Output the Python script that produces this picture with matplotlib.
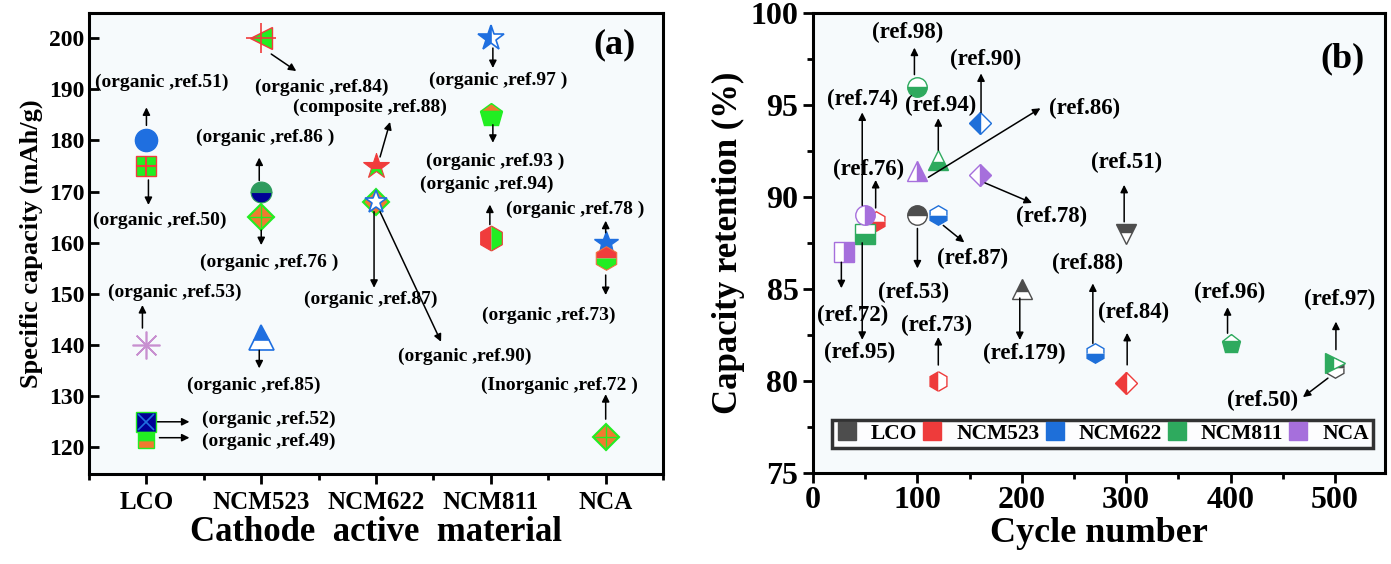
import numpy as np
import matplotlib
matplotlib.use("Agg")
import matplotlib.pyplot as plt
from matplotlib.transforms import offset_copy
from matplotlib.lines import Line2D
from matplotlib.ticker import MultipleLocator

plt.rcParams['font.family'] = ['Liberation Serif', 'DejaVu Serif']
plt.rcParams['font.weight'] = 'bold'
plt.rcParams['axes.labelweight'] = 'bold'

# ---------------- data: panel (a) ----------------
materials = ['LCO', 'NCM523', 'NCM622', 'NCM811', 'NCA']
a_cat = [1, 1, 1, 1, 1, 2, 2, 2, 2, 3, 3, 4, 4, 4, 5, 5, 5]
a_cap = [180, 175, 140, 125, 121.5, 200, 170, 165, 141.5, 175, 168, 200, 185, 161, 160, 157, 122]
a_labels = ['(organic ,ref.51)', '(organic ,ref.50)', '(organic ,ref.53)', '(organic ,ref.52)',
            '(organic ,ref.49)', '(organic ,ref.84)', '(organic ,ref.86 )', '(organic ,ref.76 )',
            '(organic ,ref.85)', '(composite ,ref.88)', '(organic ,ref.87)', '(organic ,ref.97 )',
            '(organic ,ref.93 )', '(organic ,ref.94)', '(organic ,ref.78 )', '(organic ,ref.73)',
            '(Inorganic ,ref.72 )']

# ---------------- data: panel (b) ----------------
b_groups = ['LCO', 'NCM523', 'NCM622', 'NCM811', 'NCA']
b_colors = ['#4d4d4d', '#ee3b3b', '#1e6fd9', '#2eaa5e', '#a66fdc']
b_group = ['LCO', 'LCO', 'LCO', 'LCO',
           'NCM523', 'NCM523', 'NCM523',
           'NCM622', 'NCM622', 'NCM622',
           'NCM811', 'NCM811', 'NCM811', 'NCM811', 'NCM811',
           'NCA', 'NCA', 'NCA', 'NCA']
b_cycles = [100, 200, 300, 500, 60, 120, 300, 120, 160, 270, 100, 120, 50, 400, 500, 50, 100, 160, 30]
b_retention = [89, 85, 88, 80.7, 88.7, 80, 79.9, 89, 94, 81.5, 96, 92, 88, 82, 81, 89, 91.4, 91.2, 87]
b_labels = ['(ref.53)', '(ref.179)', '(ref.51)', '(ref.50)', '(ref.76)', '(ref.73)', '(ref.84)',
            '(ref.87)', '(ref.90)', '(ref.88)', '(ref.98)', '(ref.94)', '(ref.95)', '(ref.96)',
            '(ref.97)', '(ref.74)', '(ref.86)', '(ref.78)', '(ref.72)']
b_markers = ['o', '^', 'v', 'h', 'h', 'h', 'D', 'h', 'D', 'h', 'o', '^', 's', 'p', '>', 'o', '^', 'D', 's']
b_fill = ['top', 'top', 'top', 'top', 'bottom', 'left', 'left', 'bottom', 'left', 'bottom',
          'bottom', 'bottom', 'bottom', 'bottom', 'left', 'right', 'right', 'right', 'right']

# annotation layout, pixel offsets from the point: text (dx, dy), arrow tail, arrow tip
a_layout = [
    ((15, 58), (0, 15), (0, 33)),
    ((13, -54), (2, -14), (2, -39)),
    ((28, 53), (-4, 17), (-4, 40)),
    ((122, 2), (11, 0), (43, 0)),
    ((122, -2), (13, 2), (43, 2)),
    ((61, -49), (10, -16), (35, -33)),
    ((4, 54), (-2, 11), (-2, 34)),
    ((8, -45), (0, -13), (0, -28)),
    ((-7, -48), (-2, -13), (-2, -31)),
    ((-6, 59), (4, 9), (14, 44)),
    ((-5, -98), (-2, -10), (-2, -86)),
    ((7, -42), (2, -10), (2, -30)),
    ((4, -47), (2, -10), (2, -28)),
    ((-4, 53), (-1, 13), (-1, 33)),
    ((-30, 33), (0, 10), (0, 22)),
    ((-57, -57), (0, -17), (0, -37)),
    ((-46, 52), (0, 18), (0, 43)),
]
b_layout = [
    ((-4, -77), (0, -13), (0, -53)),
    ((3, -64), (-2, -9), (-2, -51)),
    ((0, 71), (-2, 12), (-2, 49)),
    ((-72, -32), (-7, -10), (-32, -29)),
    ((-7, 51), (0, 13), (0, 41)),
    ((-2, 56), (0, 16), (0, 44)),
    ((7, 70), (1, 18), (1, 50)),
    ((34, -43), (5, -10), (26, -27)),
    ((6, 64), (1, 11), (1, 50)),
    ((-7, 90), (-2, 10), (-2, 70)),
    ((-10, 54), (-3, 12), (-3, 39)),
    ((2, 55), (0, 10), (0, 42)),
    ((-6, -119), (-3, -9), (-3, -106)),
    ((-1, 52), (-3, 11), (-3, 37)),
    ((5, 63), (1, 13), (1, 41)),
    ((-3, 116), (-3, 10), (-3, 103)),
    ((167, 63), (11, -6), (123, 63)),
    ((72, -42), (5, -8), (52, -28)),
    ((8, -63), (-3, -10), (-3, -36)),
]

fig = plt.figure(figsize=(13.91, 5.64), dpi=100)
axa = fig.add_axes([0.064, 0.1596, 0.4127, 0.8174])
axb = fig.add_axes([0.5845, 0.1613, 0.4112, 0.8156])


def arrow(ax, x, y, tail, tip):
    t_tail = offset_copy(ax.transData, fig=fig, x=tail[0], y=tail[1], units='dots')
    t_tip = offset_copy(ax.transData, fig=fig, x=tip[0], y=tip[1], units='dots')
    ax.annotate('', xy=(x, y), xycoords=t_tip, xytext=(x, y), textcoords=t_tail,
                arrowprops=dict(arrowstyle='-|>', color='k', lw=1.1, mutation_scale=11,
                                shrinkA=0, shrinkB=0))


# ---------------- panel (a) ----------------
blue = '#1f6fe0'
lime = '#22ee22'
red = '#f03c3c'
orange = '#f07a30'
navy = '#000096'
sea = '#2e9b5e'
plum = '#c890d0'

a_style = [
    [dict(marker='o', ms=16, mfc=blue, mec=blue)],
    [dict(marker='s', ms=14, mfc=lime, mec=red, mew=1), dict(marker='+', ms=14, mec=red, mew=1.5)],
    [dict(marker=(8, 2, 0), ms=20, mec=plum, mew=1.2)],
    [dict(marker='s', ms=14, mfc=navy, mec=lime, mew=1), dict(marker='x', ms=11, mec=blue, mew=1.2)],
    [dict(marker='s', ms=12, mfc=orange, mfcalt=lime, fillstyle='bottom', mec=lime, mew=1)],
    [dict(marker='<', ms=16, mfc=lime, mec=red, mew=1), dict(marker='+', ms=22, mec=red, mew=1.2)],
    [dict(marker='o', ms=15, mfc=sea, mfcalt=navy, fillstyle='top', mec=sea, mew=0.8)],
    [dict(marker='D', ms=13, mfc=orange, mec=lime, mew=1.5), dict(marker='+', ms=18, mec=lime, mew=1)],
    [dict(marker='^', ms=18, mfc=blue, mfcalt='white', fillstyle='top', mec=blue, mew=1.2)],
    [dict(marker='*', ms=19, mfc=red, mfcalt=lime, fillstyle='top', mec=red, mew=0.8)],
    [dict(marker='D', ms=13, mfc=orange, mec=lime, mew=1.5),
     dict(marker='*', ms=17, mfc='white', mec=blue, mew=1.2)],
    [dict(marker='*', ms=19, mfc=blue, mfcalt='white', fillstyle='left', mec=blue, mew=1.2)],
    [dict(marker='p', ms=17, mfc=orange, mfcalt=lime, fillstyle='top', mec=lime, mew=1)],
    [dict(marker='h', ms=18, mfc=red, mfcalt=lime, fillstyle='left', mec=red, mew=0.8)],
    [dict(marker='*', ms=18, mfc=blue, mec=blue, mew=1)],
    [dict(marker='h', ms=17, mfc=red, mfcalt=lime, fillstyle='top', mec='#f07040', mew=0.8)],
    [dict(marker='D', ms=13, mfc=orange, mec=lime, mew=1.5), dict(marker='+', ms=18, mec=lime, mew=1)],
]

axa.set_facecolor('#f6fafc')
for i in range(len(a_cap)):
    for st in a_style[i]:
        axa.plot([a_cat[i]], [a_cap[i]], linestyle='none', zorder=3, **st)
    (tdx, tdy), tail, tip = a_layout[i]
    axa.annotate(a_labels[i], xy=(a_cat[i], a_cap[i]), xytext=(tdx, tdy), textcoords='offset pixels',
                 ha='center', va='center', fontsize=14)
    arrow(axa, a_cat[i], a_cap[i], tail, tip)
# ref.90 shares the NCM622 point with ref.87
axa.annotate('(organic ,ref.90)', xy=(a_cat[10], a_cap[10]), xytext=(89, -155),
             textcoords='offset pixels', ha='center', va='center', fontsize=14)
arrow(axa, a_cat[10], a_cap[10], (4, -10), (65, -140))

axa.set_xlim(0.5, 5.5)
axa.set_ylim(114.8, 204.9)
axa.set_xticks(range(1, 6))
axa.set_xticklabels(materials)
axa.xaxis.set_minor_locator(MultipleLocator(0.5))
axa.yaxis.set_major_locator(MultipleLocator(10))
axa.tick_params(axis='x', which='major', direction='out', length=7, width=2, labelsize=18, pad=5)
axa.tick_params(axis='x', which='minor', direction='out', length=4, width=2)
axa.tick_params(axis='y', which='major', direction='in', length=7, width=2, labelsize=17)
axa.set_xlabel('Cathode  active  material', fontsize=25, labelpad=2)
axa.set_ylabel('Specific capacity (mAh/g)', fontsize=19, labelpad=4)
axa.text(0.915, 0.93, '(a)', transform=axa.transAxes, ha='center', va='center', fontsize=26)
for s in axa.spines.values():
    s.set_linewidth(2.2)

# ---------------- panel (b) ----------------
axb.set_facecolor('#f6fafc')
for i in range(len(b_cycles)):
    c = b_colors[b_groups.index(b_group[i])]
    ms = 11 if b_markers[i] == 'D' else 14
    axb.plot([b_cycles[i]], [b_retention[i]], linestyle='none', marker=b_markers[i], ms=ms,
             mfc=c, mfcalt='white', fillstyle=b_fill[i], mec=c, mew=1, zorder=3)
    (tdx, tdy), tail, tip = b_layout[i]
    axb.annotate(b_labels[i], xy=(b_cycles[i], b_retention[i]), xytext=(tdx, tdy),
                 textcoords='offset pixels', ha='center', va='center', fontsize=16.5)
    arrow(axb, b_cycles[i], b_retention[i], tail, tip)

handles = [Line2D([], [], linestyle='none', marker='s', ms=13, mfc=c, mec=c) for c in b_colors]
leg = axb.legend(handles, b_groups, loc='lower left', bbox_to_anchor=(0.033, 0.054, 0.946, 0.061),
                 mode='expand', ncol=5, fontsize=15.5, frameon=True, fancybox=False,
                 handlelength=1, handletextpad=0.6, borderpad=0.2, borderaxespad=0, columnspacing=0.8)
leg.get_frame().set_edgecolor('k')
leg.get_frame().set_linewidth(2.5)

axb.set_xlim(0, 548)
axb.set_ylim(75, 100)
axb.xaxis.set_major_locator(MultipleLocator(100))
axb.xaxis.set_minor_locator(MultipleLocator(50))
axb.yaxis.set_major_locator(MultipleLocator(5))
axb.yaxis.set_minor_locator(MultipleLocator(2.5))
axb.tick_params(which='major', direction='out', length=7, width=2, labelsize=23)
axb.tick_params(axis='x', which='major', pad=2)
axb.tick_params(which='minor', direction='out', length=4, width=2)
axb.set_xlabel('Cycle number', fontsize=26, labelpad=2)
axb.set_ylabel('Capacity retention (%)', fontsize=25, labelpad=4)
axb.text(0.925, 0.9, '(b)', transform=axb.transAxes, ha='center', va='center', fontsize=26)
for s in axb.spines.values():
    s.set_linewidth(2.2)

fig.savefig('out.png', dpi=100)
